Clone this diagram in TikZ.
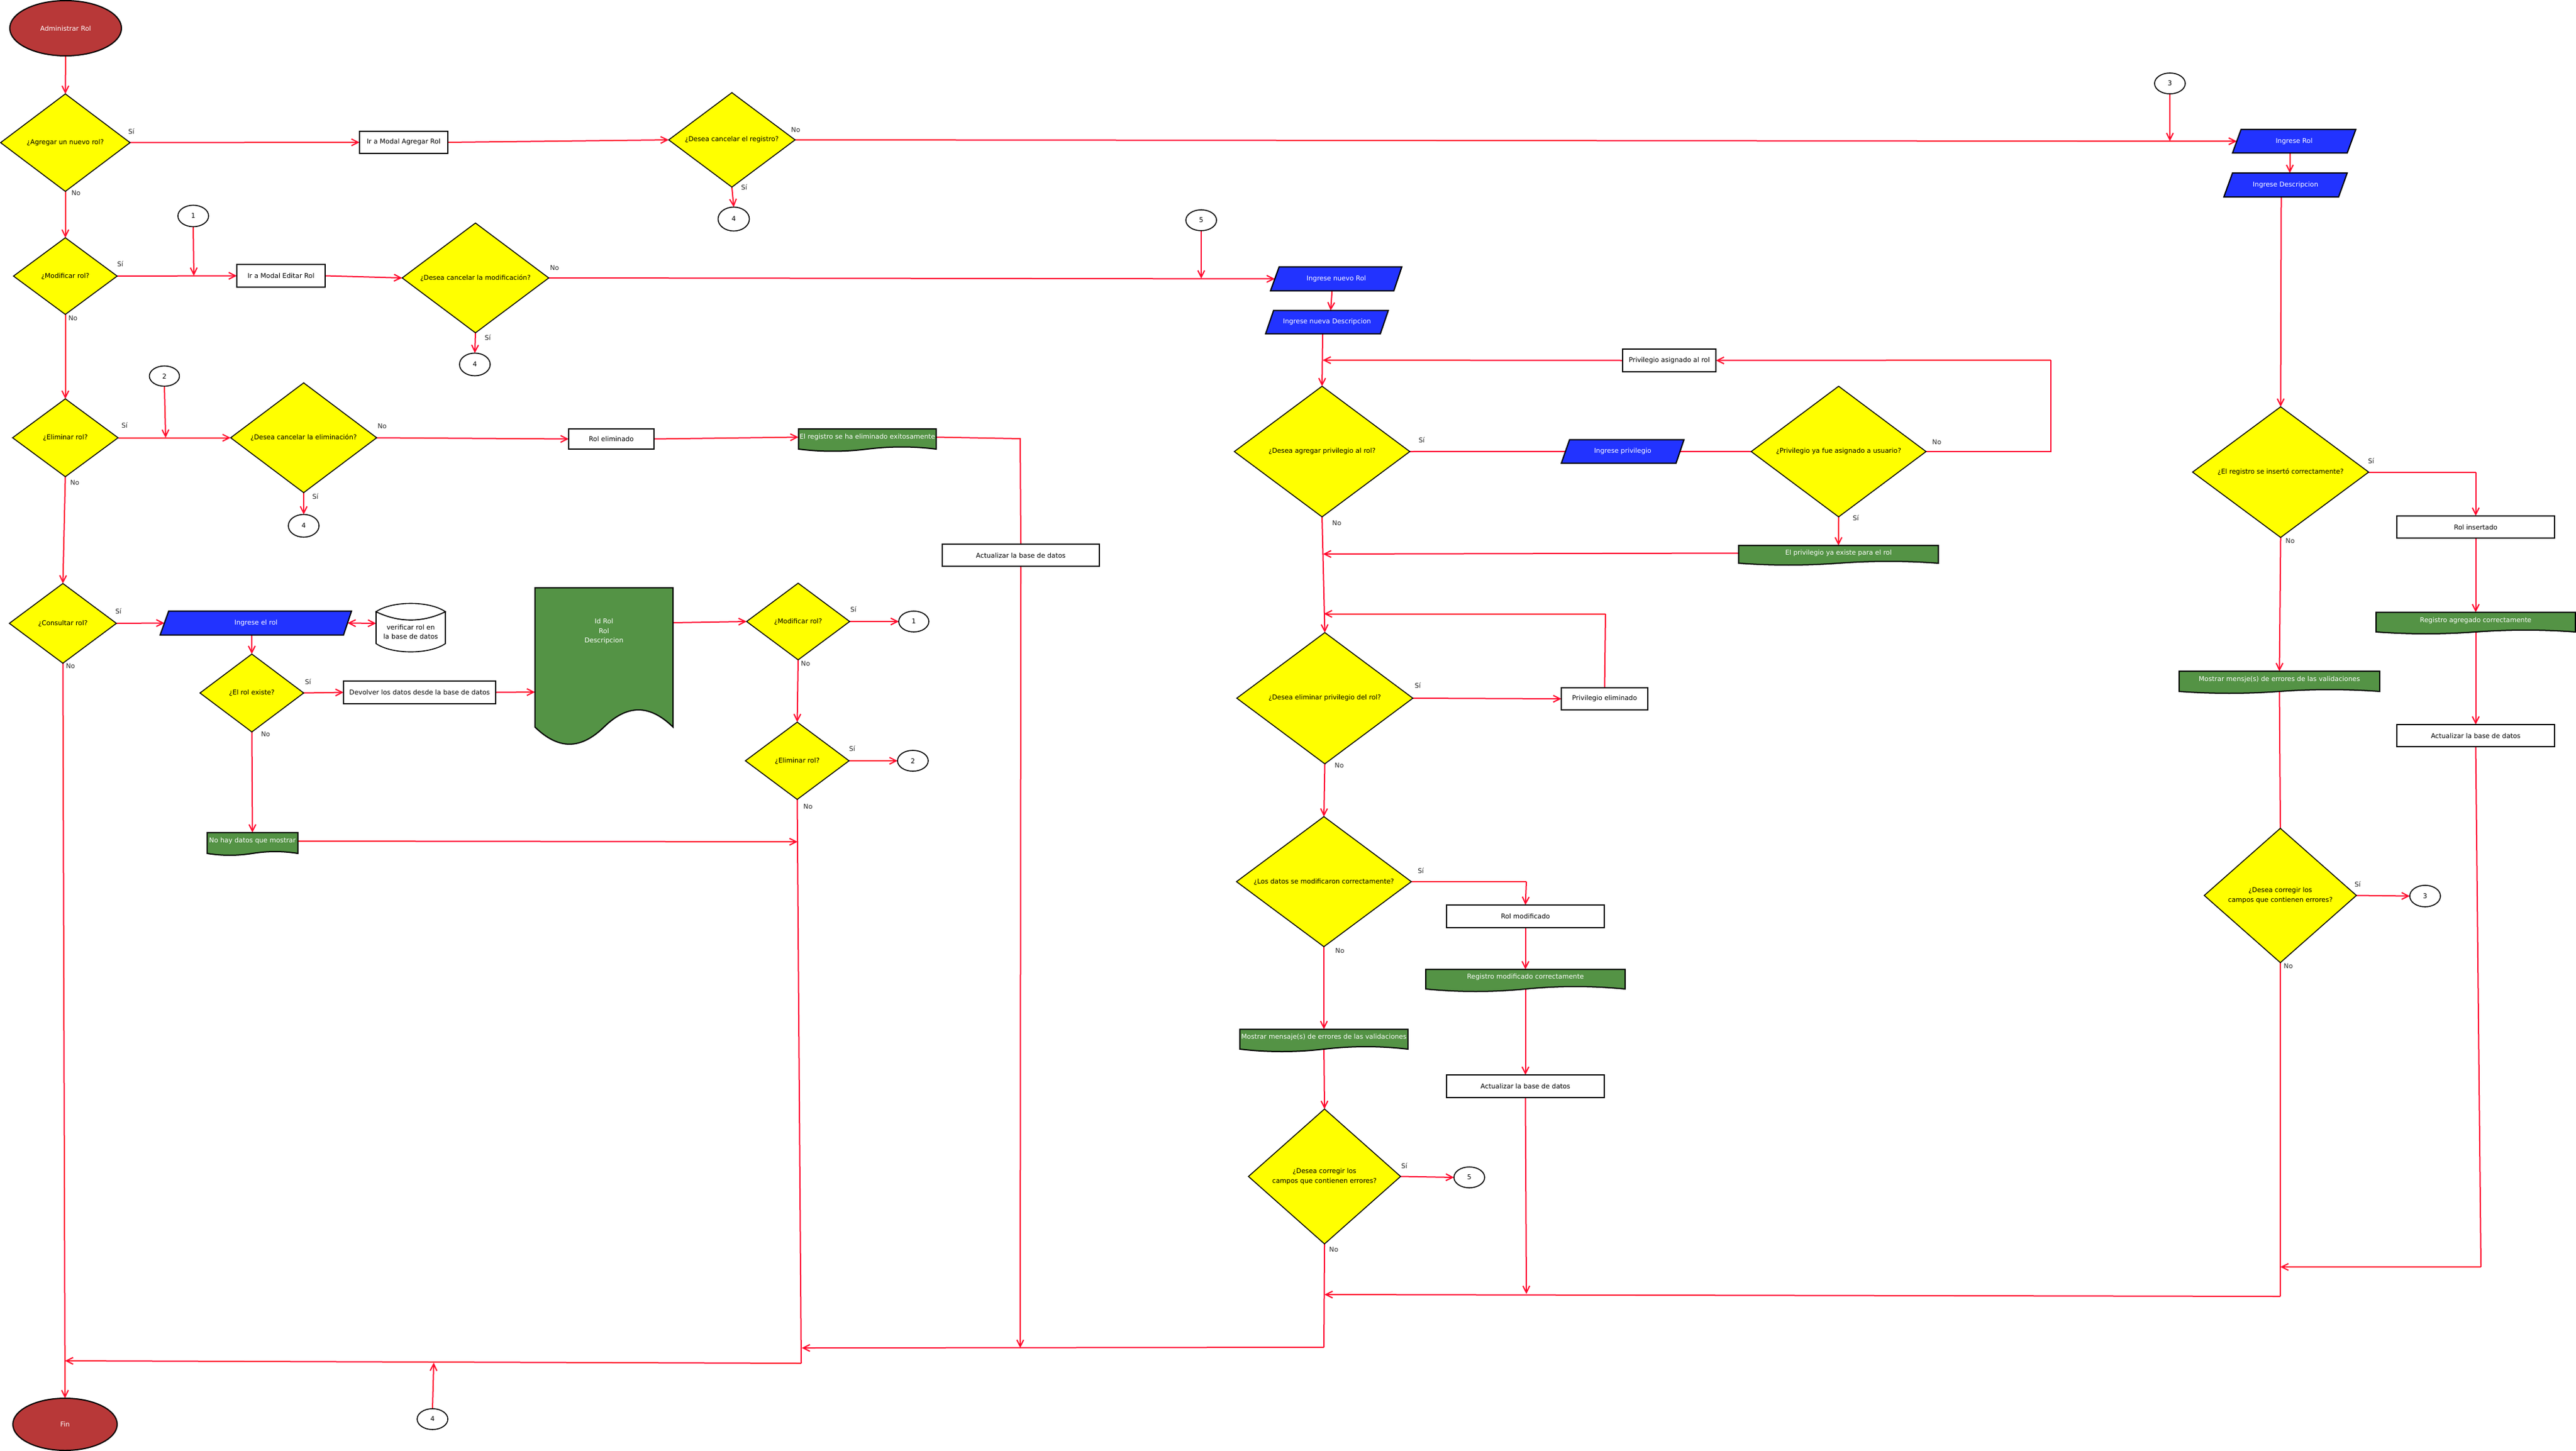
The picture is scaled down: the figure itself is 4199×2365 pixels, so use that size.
\documentclass[tikz,border=0pt]{standalone}
\usepackage{fontspec}
\setmainfont{DejaVu Sans}
\usetikzlibrary{shapes.geometric,arrows.meta,backgrounds}
\definecolor{linkred}{HTML}{FF0A2E}
\definecolor{decyellow}{HTML}{FFFF00}
\definecolor{inblue}{HTML}{2233FF}
\definecolor{docgreen}{HTML}{549345}
\definecolor{termred}{HTML}{B83838}
\tikzset{
  basefont/.style={font=\fontsize{10.8}{15.5}\selectfont,align=center,inner sep=0pt,outer sep=0pt},
  decis/.style n args={2}{basefont,diamond,shape aspect=1.3,draw=black,fill=decyellow,line width=1.5pt,text=black,minimum width=#1pt,minimum height=#2pt},
  procbox/.style n args={2}{basefont,rectangle,draw=black,fill=white,line width=2pt,text=black,minimum width=#1pt,minimum height=#2pt},
  termin/.style n args={2}{basefont,ellipse,draw=black,fill=termred,line width=2pt,text=white,minimum width=#1pt,minimum height=#2pt},
  conncirc/.style n args={2}{basefont,ellipse,draw=black,fill=white,line width=1.6pt,text=black,minimum width=#1pt,minimum height=#2pt},
  lbl/.style={basefont,text=black!85},
  shapeline/.style={draw=black,line width=2pt,line join=miter},
  innerlabel/.style={basefont,rectangle},
  conn/.style={draw=linkred,line width=2pt},
  arr/.style={conn,-{Straight Barb[length=11pt,width=11pt]}},
  arrb/.style={conn,{Straight Barb[length=11pt,width=11pt]}-{Straight Barb[length=11pt,width=11pt]}}
}
% name, x1, ytop, x2, ybot, amplitude, text y, text
\newcommand\docwave[8]{%
  \pgfmathsetmacro\wW{#4-#2}%
  \pgfmathsetmacro\wH{2*(#7-#3)}%
  \pgfmathsetmacro\xM{(#2+#4)/2}%
  \pgfmathsetmacro\xA{#4-0.17*\wW}%
  \pgfmathsetmacro\xB{#4-0.33*\wW}%
  \pgfmathsetmacro\xC{#2+0.33*\wW}%
  \pgfmathsetmacro\xD{#2+0.17*\wW}%
  \pgfmathsetmacro\yU{#5-1.33*#6}%
  \pgfmathsetmacro\yL{#5+1.33*#6}%
  \draw[shapeline,fill=docgreen] (#2,#3) -- (#4,#3) -- (#4,#5)
    .. controls (\xA,\yU) and (\xB,\yU) .. (\xM,#5)
    .. controls (\xC,\yL) and (\xD,\yL) .. (#2,#5) -- cycle;
  \node[innerlabel,text=white,minimum width=\wW pt,minimum height=\wH pt] (#1) at (\xM,#7) {#8};
}
% name, TLx, TRx, BLx, BRx, ytop, ybot, text
\newcommand\inputpar[8]{%
  \pgfmathsetmacro\pL{(#2+#4)/2}%
  \pgfmathsetmacro\pR{(#3+#5)/2}%
  \pgfmathsetmacro\pW{\pR-\pL}%
  \pgfmathsetmacro\pH{#7-#6}%
  \pgfmathsetmacro\pX{(\pL+\pR)/2}%
  \pgfmathsetmacro\pY{(#6+#7)/2}%
  \draw[shapeline,fill=inblue] (#2,#6) -- (#3,#6) -- (#5,#7) -- (#4,#7) -- cycle;
  \node[innerlabel,text=white,minimum width=\pW pt,minimum height=\pH pt] (#1) at (\pX,\pY) {#8};
}
\begin{document}
\begin{tikzpicture}[x=1pt,y=-1pt]
\useasboundingbox (0,0) rectangle (4199,2365);
% ---------- left column
\node[termin={182}{90}] (start) at (107,46) {Administrar Rol};
\node[decis={211}{159}] (dnew) at (106.5,232.5) {¿Agregar un nuevo rol?};
\node[procbox={144}{36}] (bnew) at (658,232) {Ir a Modal Agregar Rol};
\node[decis={206}{154}] (dcanr) at (1193,228) {¿Desea cancelar el registro?};
\node[conncirc={51}{39}] (c4a) at (1196,357) {4};
\node[decis={169}{125}] (dmod) at (106.5,450) {¿Modificar rol?};
\node[conncirc={50}{35}] (c1a) at (315,352) {1};
\node[procbox={144}{37}] (bedit) at (458,449.5) {Ir a Modal Editar Rol};
\node[decis={239}{179}] (dcanm) at (775,453) {¿Desea cancelar la modificación?};
\node[conncirc={50}{37}] (c4b) at (774,594) {4};
\node[decis={172}{127}] (dele) at (106.5,713.5) {¿Eliminar rol?};
\node[conncirc={49}{33}] (c2a) at (268,613) {2};
\node[decis={238}{179}] (dcane) at (495,713.5) {¿Desea cancelar la eliminación?};
\node[conncirc={50}{37}] (c4c) at (495,857) {4};
\node[procbox={139}{33}] (brem) at (996.5,715.5) {Rol eliminado};
\docwave{dokrem}{1301.5}{699}{1526}{732}{3.5}{712.5}{El registro se ha eliminado exitosamente}
\node[procbox={256}{36}] (act1) at (1664,905) {Actualizar la base de datos};
\node[decis={174.5}{130}] (dcon) at (102.5,1016) {¿Consultar rol?};
\inputpar{ingrol}{275}{573}{261}{560}{996}{1035}{Ingrese el rol}
\draw[shapeline,line width=1.6pt,fill=white] (613,997) .. controls (650,1015) and (689,1015) .. (726,997)
  -- (726,1049) .. controls (700,1067) and (639,1067) .. (613,1049) -- cycle;
\draw[shapeline,line width=1.6pt,fill=white] (613,997) .. controls (639,979) and (700,979) .. (726,997)
  .. controls (689,1015) and (650,1015) .. (613,997) -- cycle;
\node[innerlabel,text=black,minimum width=113pt,minimum height=66pt] (cyl) at (669.5,1030) {verificar rol en\\la base de datos};
\node[decis={169}{127}] (dexi) at (410.5,1129.5) {¿El rol existe?};
\node[procbox={248}{37}] (bdev) at (684,1128.5) {Devolver los datos desde la base de datos};
\docwave{dtall}{872}{958}{1097}{1185}{28}{1029.5}{Id Rol\\Rol\\Descripcion}
\docwave{dnone}{337.5}{1357}{485.5}{1391}{3}{1371}{No hay datos que mostrar}
\node[decis={168}{125}] (dmod2) at (1301,1013) {¿Modificar rol?};
\node[conncirc={49}{34}] (c1b) at (1489.5,1013) {1};
\node[decis={169}{126}] (dele2) at (1299.5,1240) {¿Eliminar rol?};
\node[conncirc={50}{34}] (c2b) at (1488,1240) {2};
\node[termin={170}{85}] (fin) at (106,2321.5) {Fin};
\node[conncirc={50}{34}] (c4d) at (705,2313) {4};
% ---------- middle column
\node[conncirc={50}{34}] (c5a) at (1958,359) {5};
\inputpar{ingn}{2085}{2285}{2071}{2272}{435}{474}{Ingrese nuevo Rol}
\inputpar{ingd}{2076}{2263}{2063}{2250}{506}{544}{Ingrese nueva Descripcion}
\node[procbox={152}{37}] (bpriv) at (2721,587.5) {Privilegio asignado al rol};
\node[decis={286}{213}] (dagr) at (2155,736) {¿Desea agregar privilegio al rol?};
\inputpar{ingp}{2558.5}{2745}{2545}{2732}{716.5}{755}{Ingrese privilegio}
\node[decis={285}{213}] (dpriv) at (2997,736) {¿Privilegio ya fue asignado a usuario?};
\docwave{dexist}{2834}{889}{3159.5}{918}{3}{901.5}{El privilegio ya existe para el rol}
\node[decis={287}{214}] (delp) at (2159.5,1138) {¿Desea eliminar privilegio del rol?};
\node[procbox={141}{36}] (bdelp) at (2615.5,1139) {Privilegio eliminado};
\node[decis={285}{212}] (dlos) at (2158,1437) {¿Los datos se modificaron correctamente?};
\node[procbox={257}{37}] (brmod) at (2486.5,1493.5) {Rol modificado};
\docwave{dokmod}{2324}{1580}{2649}{1612}{4}{1593}{Registro modificado correctamente}
\node[procbox={257}{37}] (act2) at (2486.5,1770.5) {Actualizar la base de datos};
\docwave{derr}{2021}{1677.5}{2295}{1710}{4}{1691}{Mostrar mensaje(s) de errores de las validaciones}
\node[decis={248}{220}] (dcor) at (2159,1917.5) {¿Desea corregir los\\campos que contienen errores?};
\node[conncirc={50}{34}] (c5b) at (2395,1919) {5};
% ---------- right column
\node[conncirc={50}{34}] (c3a) at (3537,136) {3};
\inputpar{ingr}{3653}{3840}{3639}{3826}{211}{249.5}{Ingrese Rol}
\inputpar{ingds}{3639}{3826}{3625}{3812}{282}{321}{Ingrese Descripcion}
\node[decis={287}{213}] (dreg) at (3717.5,769.5) {¿El registro se insertó correctamente?};
\node[procbox={257}{36.5}] (brins) at (4035.5,859) {Rol insertado};
\docwave{dokag}{3873}{998}{4198}{1030}{3}{1011.5}{Registro agregado correctamente}
\node[procbox={257}{36}] (act3) at (4035.5,1199) {Actualizar la base de datos};
\docwave{dmsg}{3552}{1094}{3879}{1127}{3}{1108}{Mostrar mensje(s) de errores de las validaciones}
\node[decis={248}{219}] (dcor3) at (3717,1459.5) {¿Desea corregir los\\campos que contienen errores?};
\node[conncirc={50}{35}] (c3b) at (3953,1460.5) {3};
% ---------- labels
\node[lbl] (t1) at (214,214) {Sí};
\node[lbl] (t2) at (124,315) {No};
\node[lbl] (t3) at (196,430) {Sí};
\node[lbl] (t4) at (119,519) {No};
\node[lbl] (t5) at (904,437) {No};
\node[lbl] (t6) at (795,550) {Sí};
\node[lbl] (t7) at (1297,212) {No};
\node[lbl] (t8) at (1213,305) {Sí};
\node[lbl] (t9) at (203,693) {Sí};
\node[lbl] (t10) at (122,787) {No};
\node[lbl] (t11) at (623,695) {No};
\node[lbl] (t12) at (514,809) {Sí};
\node[lbl] (t13) at (193,996) {Sí};
\node[lbl] (t14) at (115,1086) {No};
\node[lbl] (t15) at (502,1111) {Sí};
\node[lbl] (t16) at (433,1197) {No};
\node[lbl] (t17) at (1391,993) {Sí};
\node[lbl] (t18) at (1313,1082) {No};
\node[lbl] (t19) at (1389,1220) {Sí};
\node[lbl] (t20) at (1317,1315) {No};
\node[lbl] (t21) at (2317.5,717) {Sí};
\node[lbl] (t22) at (2179,853) {No};
\node[lbl] (t23) at (3157,720.5) {No};
\node[lbl] (t24) at (3025,844) {Sí};
\node[lbl] (t25) at (2311,1117) {Sí};
\node[lbl] (t26) at (2183,1248) {No};
\node[lbl] (t27) at (2316,1419) {Sí};
\node[lbl] (t28) at (2184,1549.5) {No};
\node[lbl] (t29) at (2289,1900) {Sí};
\node[lbl] (t30) at (2174,2037) {No};
\node[lbl] (t31) at (3865,751) {Sí};
\node[lbl] (t32) at (3733,882) {No};
\node[lbl] (t33) at (3843,1441) {Sí};
\node[lbl] (t34) at (3730,1575) {No};
% ---------- junctions
\coordinate (j1) at (316,449.5);
\coordinate (j2) at (270,713.5);
\coordinate (j3) at (3537,230);
\coordinate (j5) at (1958,454);
\coordinate (jnone) at (1300,1372);
\coordinate (jrem) at (1663,715);
\coordinate (jact) at (1663,2197);
\coordinate (jdel) at (1306,2222);
\coordinate (jfin) at (106,2218);
\coordinate (jtop) at (707,2221);
\coordinate (jcor) at (2158,2196);
\coordinate (jcorend) at (1307,2197);
\coordinate (jpr) at (3343,736);
\coordinate (jpu) at (3343,587);
\coordinate (jpl) at (2156,587);
\coordinate (jex) at (2156.5,903);
\coordinate (jde) at (2617,1000.5);
\coordinate (jdl) at (2158,1000.5);
\coordinate (jlo) at (2488,1437);
\coordinate (jact2) at (2488,2109);
\coordinate (jre) at (4035.5,769.5);
\coordinate (ja3) at (4044,2065);
\coordinate (ja3e) at (3717,2065);
\coordinate (jc3) at (3717,2113);
\coordinate (jc3e) at (2159,2110);
% ---------- connectors (behind the shapes)
\begin{scope}[on background layer]
\draw[arr] (start.south) -- (dnew.north);
\draw[arr] (dnew.east) -- (bnew.west);
\draw[arr] (dnew.south) -- (dmod.north);
\draw[arr] (bnew.east) -- (dcanr.west);
\draw[arr] (dcanr.east) -- (ingr.west);
\draw[arr] (dcanr.south) -- (c4a.north);
\draw[arr] (c3a.south) -- (j3);
\draw[arr] (dmod.east) -- (bedit.west);
\draw[arr] (c1a.south) -- (j1);
\draw[arr] (bedit.east) -- (dcanm.west);
\draw[arr] (dcanm.east) -- (ingn.west);
\draw[arr] (dcanm.south) -- (c4b.north);
\draw[arr] (c5a.south) -- (j5);
\draw[arr] (dmod.south) -- (dele.north);
\draw[arr] (dele.east) -- (dcane.west);
\draw[arr] (c2a.south) -- (j2);
\draw[arr] (dcane.east) -- (brem.west);
\draw[arr] (dcane.south) -- (c4c.north);
\draw[arr] (brem.east) -- (dokrem.west);
\draw[conn] (dokrem.east) -- (jrem) -- (act1.north);
\draw[arr] (act1.south) -- (jact);
\draw[arr] (dele.south) -- (dcon.north);
\draw[arr] (dcon.east) -- (ingrol.west);
\draw[arrb] (ingrol.east) -- ([yshift=14pt]cyl.west);
\draw[arr] ([xshift=-7pt]ingrol.south) -- (dexi.north);
\draw[arr] (dexi.east) -- (bdev.west);
\draw[arr] (bdev.east) -- ([yshift=-98.5pt]dtall.west);
\draw[arr] ([yshift=14.5pt]dtall.east) -- (dmod2.west);
\draw[arr] (dexi.south) -- (dnone.north);
\draw[arr] (dnone.east) -- (jnone);
\draw[arr] (dmod2.east) -- (c1b.west);
\draw[arr] (dmod2.south) -- (dele2.north);
\draw[arr] (dele2.east) -- (c2b.west);
\draw[conn] (dele2.south) -- (jdel);
\draw[arr] (jdel) -- (jfin);
\draw[arr] (c4d.north) -- (jtop);
\draw[arr] (dcon.south) -- (fin.north);
\draw[conn] (dcor.south) -- (jcor);
\draw[arr] (jcor) -- (jcorend);
\draw[arr] ([xshift=-7pt]ingn.south) -- ([xshift=6pt]ingd.north);
\draw[arr] ([xshift=-7pt]ingd.south) -- (dagr.north);
\draw[conn] (dagr.east) -- (ingp.west);
\draw[conn] (ingp.east) -- (dpriv.west);
\draw[conn] (dpriv.east) -- (jpr) -- (jpu);
\draw[arr] (jpu) -- (bpriv.east);
\draw[arr] (bpriv.west) -- (jpl);
\draw[arr] (dpriv.south) -- (dexist.north);
\draw[arr] (dexist.west) -- (jex);
\draw[arr] (dagr.south) -- (delp.north);
\draw[arr] (delp.east) -- (bdelp.west);
\draw[conn] (bdelp.north) -- (jde);
\draw[arr] (jde) -- (jdl);
\draw[arr] (delp.south) -- (dlos.north);
\draw[conn] (dlos.east) -- (jlo);
\draw[arr] (jlo) -- (brmod.north);
\draw[arr] (brmod.south) -- (dokmod.north);
\draw[arr] (dokmod.south) -- (act2.north);
\draw[arr] (act2.south) -- (jact2);
\draw[arr] (dlos.south) -- (derr.north);
\draw[arr] (derr.south) -- (dcor.north);
\draw[arr] (dcor.east) -- (c5b.west);
\draw[arr] ([xshift=-7pt]ingr.south) -- ([xshift=7pt]ingds.north);
\draw[arr] ([xshift=-7pt]ingds.south) -- (dreg.north);
\draw[conn] (dreg.east) -- (jre);
\draw[arr] (jre) -- (brins.north);
\draw[arr] (brins.south) -- (dokag.north);
\draw[arr] (dokag.south) -- (act3.north);
\draw[conn] (act3.south) -- (ja3);
\draw[arr] (ja3) -- (ja3e);
\draw[arr] (dreg.south) -- (dmsg.north);
\draw[conn] (dmsg.south) -- (dcor3.north);
\draw[arr] (dcor3.east) -- (c3b.west);
\draw[conn] (dcor3.south) -- (jc3);
\draw[arr] (jc3) -- (jc3e);
\end{scope}
\end{tikzpicture}
\end{document}
